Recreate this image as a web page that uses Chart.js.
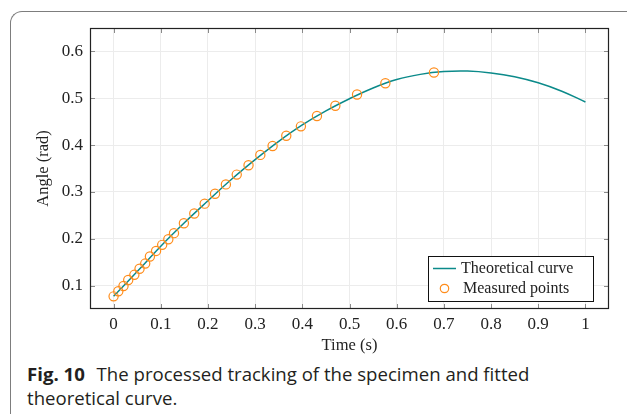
<!DOCTYPE html>
<html>
<head>
<meta charset="utf-8">
<script src="https://cdn.jsdelivr.net/npm/chart.js@4/dist/chart.umd.min.js"></script>
<style>
html, body { margin: 0; padding: 0; background: #fff; }
body { width: 627px; height: 417px; position: relative; overflow: hidden; }
#frame {
    position: absolute; left: 10px; top: 11px; width: 700px; height: 402px;
    border-left: 1.5px solid #7d7d7d; border-top: 1.5px solid #7d7d7d;
    border-top-left-radius: 12px;
}
#wrap { position: absolute; left: 0; top: 0; width: 627px; height: 360px; }
#caption {
    position: absolute; left: 27px; top: 362px;
    font-family: "Open Sans", sans-serif; font-size: 18.6px; line-height: 24px; color: #231f20;
}
#caption b { margin-right: 7px; }
</style>
</head>
<body>
<div id="frame"></div>
<div id="wrap"><canvas id="chart"></canvas></div>
<div id="caption"><b>Fig. 10</b> The processed tracking of the specimen and fitted<br>theoretical curve.</div>
<script>
// Achsen-Ticks
const xTicks = [0, 0.1, 0.2, 0.3, 0.4, 0.5, 0.6, 0.7, 0.8, 0.9, 1];
const yTicks = [0.1, 0.2, 0.3, 0.4, 0.5, 0.6];

// Theoretische Kurve
const curveTime  = [0, 0.05, 0.1, 0.15, 0.2, 0.25, 0.3, 0.35, 0.4, 0.45, 0.5,
                    0.55, 0.6, 0.65, 0.7, 0.75, 0.8, 0.85, 0.9, 0.95, 1];
const curveAngle = [0.077, 0.130, 0.184, 0.234, 0.281, 0.327, 0.369, 0.408, 0.443, 0.473, 0.499,
                    0.522, 0.540, 0.551, 0.557, 0.558, 0.554, 0.546, 0.533, 0.515, 0.492];

// Messpunkte
const measuredTime  = [0, 0.01, 0.021, 0.031, 0.044, 0.055, 0.067, 0.077, 0.09, 0.103, 0.116, 0.128,
                       0.149, 0.171, 0.193, 0.215, 0.238, 0.261, 0.286, 0.311, 0.337, 0.366,
                       0.397, 0.431, 0.47, 0.516, 0.576, 0.679];
const measuredAngle = [0.077, 0.088, 0.099, 0.112, 0.123, 0.136, 0.147, 0.162, 0.174, 0.187, 0.199, 0.212,
                       0.233, 0.254, 0.275, 0.296, 0.316, 0.337, 0.357, 0.379, 0.398, 0.42,
                       0.44, 0.462, 0.484, 0.508, 0.532, 0.555];

const teal = '#0b8a8a';
const orange = '#ff8c1a';
const serif = '"Liberation Serif", "Times New Roman", serif';

const fmt = v => String(Number(v.toFixed(2)));

// Rahmen, innere Ticks und Legende
const framePlugin = {
    id: 'frameAndLegend',
    afterDraw(chart) {
        const { ctx, chartArea: a, scales: { x, y } } = chart;
        ctx.save();
        ctx.strokeStyle = '#8a8a8a';
        ctx.lineWidth = 1;
        ctx.beginPath();
        x.ticks.forEach(t => {
            const px = Math.round(x.getPixelForValue(t.value)) + 0.5;
            ctx.moveTo(px, a.bottom); ctx.lineTo(px, a.bottom - 5);
            ctx.moveTo(px, a.top); ctx.lineTo(px, a.top + 5);
        });
        y.ticks.forEach(t => {
            const py = Math.round(y.getPixelForValue(t.value)) + 0.5;
            ctx.moveTo(a.left, py); ctx.lineTo(a.left + 5, py);
            ctx.moveTo(a.right, py); ctx.lineTo(a.right - 5, py);
        });
        ctx.stroke();

        ctx.strokeStyle = '#222';
        ctx.lineWidth = 1.2;
        ctx.strokeRect(a.left + 0.5, a.top + 0.5, a.right - a.left - 1, a.bottom - a.top - 1);

        // Legende
        const lx = a.right - 181, ly = a.bottom - 53, lw = 165, lh = 45;
        ctx.fillStyle = '#fff';
        ctx.fillRect(lx, ly, lw, lh);
        ctx.strokeStyle = '#111';
        ctx.lineWidth = 1;
        ctx.strokeRect(lx + 0.5, ly + 0.5, lw, lh);

        const ds = chart.data.datasets;
        ctx.font = '16px ' + serif;
        ctx.fillStyle = '#222';
        ctx.textBaseline = 'middle';
        ctx.textAlign = 'left';

        ctx.strokeStyle = ds[0].borderColor;
        ctx.lineWidth = 1.5;
        ctx.beginPath();
        ctx.moveTo(lx + 5, ly + 12.5); ctx.lineTo(lx + 28, ly + 12.5);
        ctx.stroke();
        ctx.fillText(ds[0].label, lx + 33, ly + 12.5);

        ctx.strokeStyle = ds[1].borderColor;
        ctx.lineWidth = 1.2;
        ctx.beginPath();
        ctx.arc(lx + 16.5, ly + 32.5, 4.2, 0, Math.PI * 2);
        ctx.stroke();
        ctx.fillText(ds[1].label, lx + 35, ly + 32.5);
        ctx.restore();
    }
};

new Chart(document.getElementById('chart'), {
    type: 'scatter',
    data: {
        datasets: [
            {
                label: 'Theoretical curve',
                data: curveTime.map((t, i) => ({ x: t, y: curveAngle[i] })),
                showLine: true,
                borderColor: teal,
                borderWidth: 1.5,
                pointRadius: 0,
                tension: 0.4,
                order: 2
            },
            {
                label: 'Measured points',
                data: measuredTime.map((t, i) => ({ x: t, y: measuredAngle[i] })),
                showLine: false,
                borderColor: orange,
                backgroundColor: 'rgba(0,0,0,0)',
                borderWidth: 1.2,
                pointRadius: 4.6,
                pointStyle: 'circle',
                order: 1
            }
        ]
    },
    options: {
        responsive: true,
        maintainAspectRatio: false,
        animation: false,
        layout: { padding: { top: 28, right: 18, left: 0, bottom: 0 } },
        plugins: {
            legend: { display: false },
            tooltip: { enabled: false }
        },
        scales: {
            x: {
                type: 'linear',
                min: -0.05,
                max: 1.05,
                afterBuildTicks: s => { s.ticks = xTicks.map(v => ({ value: v })); },
                afterFit: s => { s.height = 51; },
                grid: { color: '#ececec', lineWidth: 1, drawTicks: false },
                border: { display: false },
                ticks: {
                    padding: 5,
                    color: '#222',
                    font: { family: serif, size: 17 },
                    maxRotation: 0,
                    callback: v => fmt(v)
                },
                title: {
                    display: true,
                    text: 'Time (s)',
                    color: '#222',
                    font: { family: serif, size: 16.5 },
                    padding: { top: 0, bottom: 4 }
                }
            },
            y: {
                type: 'linear',
                min: 0.05,
                max: 0.65,
                afterBuildTicks: s => { s.ticks = yTicks.map(v => ({ value: v })); },
                afterFit: s => { s.width = 90; },
                grid: { color: '#ececec', lineWidth: 1, drawTicks: false },
                border: { display: false },
                ticks: {
                    padding: 7,
                    color: '#222',
                    font: { family: serif, size: 17 },
                    callback: v => fmt(v)
                },
                title: {
                    display: true,
                    text: 'Angle (rad)',
                    color: '#222',
                    font: { family: serif, size: 16.5 },
                    padding: { top: 34, bottom: 0 }
                }
            }
        }
    },
    plugins: [framePlugin]
});
</script>
</body>
</html>
